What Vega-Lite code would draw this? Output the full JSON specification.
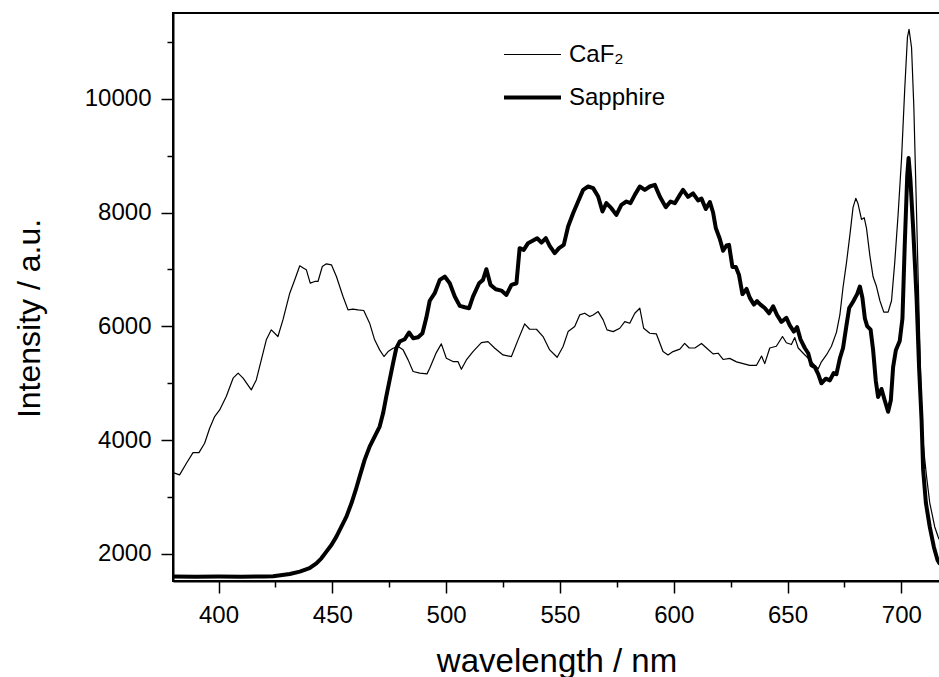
{
  "$schema": "https://vega.github.io/schema/vega-lite/v6.json",
  "autosize": "none",
  "padding": {"left": 173, "top": 13, "right": 0, "bottom": 96},
  "width": 767,
  "height": 568,
  "background": "white",
  "config": {
    "font": "Liberation Sans",
    "view": {"stroke": "black", "strokeWidth": 2},
    "axis": {"grid": false, "domainColor": "black", "domainWidth": 2, "tickColor": "black", "tickWidth": 1.5, "labelColor": "black", "titleColor": "black", "labelFont": "Liberation Sans", "titleFont": "Liberation Sans", "labelFontSize": 24, "titleFontSize": 32, "titleFontWeight": "normal"}
  },
  "data": {
    "values": [
      {"wl": 380, "I": 3430, "s": "CaF₂"},
      {"wl": 382.9, "I": 3390, "s": "CaF₂"},
      {"wl": 385.9, "I": 3594, "s": "CaF₂"},
      {"wl": 388.8, "I": 3782, "s": "CaF₂"},
      {"wl": 391.4, "I": 3782, "s": "CaF₂"},
      {"wl": 393.9, "I": 3946, "s": "CaF₂"},
      {"wl": 396.1, "I": 4210, "s": "CaF₂"},
      {"wl": 398.3, "I": 4415, "s": "CaF₂"},
      {"wl": 400.5, "I": 4532, "s": "CaF₂"},
      {"wl": 403.4, "I": 4766, "s": "CaF₂"},
      {"wl": 406.4, "I": 5089, "s": "CaF₂"},
      {"wl": 408.6, "I": 5177, "s": "CaF₂"},
      {"wl": 410.8, "I": 5089, "s": "CaF₂"},
      {"wl": 414.4, "I": 4884, "s": "CaF₂"},
      {"wl": 416.6, "I": 5059, "s": "CaF₂"},
      {"wl": 418.8, "I": 5411, "s": "CaF₂"},
      {"wl": 421.0, "I": 5763, "s": "CaF₂"},
      {"wl": 423.2, "I": 5939, "s": "CaF₂"},
      {"wl": 426.1, "I": 5822, "s": "CaF₂"},
      {"wl": 428.3, "I": 6114, "s": "CaF₂"},
      {"wl": 431.3, "I": 6583, "s": "CaF₂"},
      {"wl": 433.5, "I": 6818, "s": "CaF₂"},
      {"wl": 435.7, "I": 7064, "s": "CaF₂"},
      {"wl": 437.4, "I": 7023, "s": "CaF₂"},
      {"wl": 438.6, "I": 6994, "s": "CaF₂"},
      {"wl": 440.3, "I": 6759, "s": "CaF₂"},
      {"wl": 442.3, "I": 6789, "s": "CaF₂"},
      {"wl": 443.7, "I": 6789, "s": "CaF₂"},
      {"wl": 445.6, "I": 7052, "s": "CaF₂"},
      {"wl": 447.4, "I": 7099, "s": "CaF₂"},
      {"wl": 449.6, "I": 7081, "s": "CaF₂"},
      {"wl": 451.8, "I": 6876, "s": "CaF₂"},
      {"wl": 454.7, "I": 6525, "s": "CaF₂"},
      {"wl": 456.9, "I": 6290, "s": "CaF₂"},
      {"wl": 459.1, "I": 6302, "s": "CaF₂"},
      {"wl": 461.3, "I": 6290, "s": "CaF₂"},
      {"wl": 463.8, "I": 6279, "s": "CaF₂"},
      {"wl": 466.4, "I": 6056, "s": "CaF₂"},
      {"wl": 468.6, "I": 5763, "s": "CaF₂"},
      {"wl": 470.8, "I": 5587, "s": "CaF₂"},
      {"wl": 472.7, "I": 5470, "s": "CaF₂"},
      {"wl": 474.5, "I": 5558, "s": "CaF₂"},
      {"wl": 476.7, "I": 5616, "s": "CaF₂"},
      {"wl": 478.9, "I": 5646, "s": "CaF₂"},
      {"wl": 481.1, "I": 5587, "s": "CaF₂"},
      {"wl": 483.3, "I": 5411, "s": "CaF₂"},
      {"wl": 485.5, "I": 5206, "s": "CaF₂"},
      {"wl": 488.4, "I": 5177, "s": "CaF₂"},
      {"wl": 491.6, "I": 5165, "s": "CaF₂"},
      {"wl": 492.8, "I": 5264, "s": "CaF₂"},
      {"wl": 495.7, "I": 5539, "s": "CaF₂"},
      {"wl": 497.9, "I": 5692, "s": "CaF₂"},
      {"wl": 500.1, "I": 5440, "s": "CaF₂"},
      {"wl": 503.0, "I": 5381, "s": "CaF₂"},
      {"wl": 505.2, "I": 5381, "s": "CaF₂"},
      {"wl": 506.7, "I": 5246, "s": "CaF₂"},
      {"wl": 508.9, "I": 5410, "s": "CaF₂"},
      {"wl": 511.8, "I": 5557, "s": "CaF₂"},
      {"wl": 515.5, "I": 5715, "s": "CaF₂"},
      {"wl": 518.4, "I": 5733, "s": "CaF₂"},
      {"wl": 521.4, "I": 5616, "s": "CaF₂"},
      {"wl": 525.0, "I": 5498, "s": "CaF₂"},
      {"wl": 528.7, "I": 5469, "s": "CaF₂"},
      {"wl": 531.6, "I": 5762, "s": "CaF₂"},
      {"wl": 534.5, "I": 6043, "s": "CaF₂"},
      {"wl": 536.7, "I": 5949, "s": "CaF₂"},
      {"wl": 539.7, "I": 5949, "s": "CaF₂"},
      {"wl": 542.6, "I": 5820, "s": "CaF₂"},
      {"wl": 545.5, "I": 5586, "s": "CaF₂"},
      {"wl": 548.8, "I": 5457, "s": "CaF₂"},
      {"wl": 551.4, "I": 5645, "s": "CaF₂"},
      {"wl": 553.6, "I": 5908, "s": "CaF₂"},
      {"wl": 556.5, "I": 5996, "s": "CaF₂"},
      {"wl": 558.7, "I": 6201, "s": "CaF₂"},
      {"wl": 560.9, "I": 6231, "s": "CaF₂"},
      {"wl": 563.1, "I": 6172, "s": "CaF₂"},
      {"wl": 564.6, "I": 6201, "s": "CaF₂"},
      {"wl": 566.8, "I": 6260, "s": "CaF₂"},
      {"wl": 569.0, "I": 6114, "s": "CaF₂"},
      {"wl": 570.7, "I": 5938, "s": "CaF₂"},
      {"wl": 573.4, "I": 5908, "s": "CaF₂"},
      {"wl": 576.3, "I": 5967, "s": "CaF₂"},
      {"wl": 578.5, "I": 6084, "s": "CaF₂"},
      {"wl": 580.7, "I": 6055, "s": "CaF₂"},
      {"wl": 582.9, "I": 6231, "s": "CaF₂"},
      {"wl": 585.1, "I": 6319, "s": "CaF₂"},
      {"wl": 586.8, "I": 5967, "s": "CaF₂"},
      {"wl": 589.5, "I": 5879, "s": "CaF₂"},
      {"wl": 592.4, "I": 5867, "s": "CaF₂"},
      {"wl": 595.3, "I": 5557, "s": "CaF₂"},
      {"wl": 597.5, "I": 5498, "s": "CaF₂"},
      {"wl": 599.7, "I": 5557, "s": "CaF₂"},
      {"wl": 602.7, "I": 5600, "s": "CaF₂"},
      {"wl": 604.8, "I": 5700, "s": "CaF₂"},
      {"wl": 606.8, "I": 5620, "s": "CaF₂"},
      {"wl": 609.3, "I": 5620, "s": "CaF₂"},
      {"wl": 612.2, "I": 5699, "s": "CaF₂"},
      {"wl": 614.4, "I": 5620, "s": "CaF₂"},
      {"wl": 617.3, "I": 5516, "s": "CaF₂"},
      {"wl": 619.5, "I": 5528, "s": "CaF₂"},
      {"wl": 621.7, "I": 5418, "s": "CaF₂"},
      {"wl": 624.6, "I": 5437, "s": "CaF₂"},
      {"wl": 627.6, "I": 5376, "s": "CaF₂"},
      {"wl": 630.5, "I": 5345, "s": "CaF₂"},
      {"wl": 633.4, "I": 5315, "s": "CaF₂"},
      {"wl": 636.4, "I": 5315, "s": "CaF₂"},
      {"wl": 638.6, "I": 5479, "s": "CaF₂"},
      {"wl": 640.0, "I": 5345, "s": "CaF₂"},
      {"wl": 642.2, "I": 5620, "s": "CaF₂"},
      {"wl": 645.1, "I": 5650, "s": "CaF₂"},
      {"wl": 647.8, "I": 5821, "s": "CaF₂"},
      {"wl": 649.5, "I": 5711, "s": "CaF₂"},
      {"wl": 651.7, "I": 5681, "s": "CaF₂"},
      {"wl": 653.2, "I": 5803, "s": "CaF₂"},
      {"wl": 654.7, "I": 5620, "s": "CaF₂"},
      {"wl": 656.9, "I": 5528, "s": "CaF₂"},
      {"wl": 659.1, "I": 5437, "s": "CaF₂"},
      {"wl": 661.3, "I": 5345, "s": "CaF₂"},
      {"wl": 663.5, "I": 5253, "s": "CaF₂"},
      {"wl": 664.9, "I": 5376, "s": "CaF₂"},
      {"wl": 667.1, "I": 5498, "s": "CaF₂"},
      {"wl": 669.3, "I": 5650, "s": "CaF₂"},
      {"wl": 671.5, "I": 5895, "s": "CaF₂"},
      {"wl": 673.0, "I": 6200, "s": "CaF₂"},
      {"wl": 674.4, "I": 6688, "s": "CaF₂"},
      {"wl": 675.9, "I": 7116, "s": "CaF₂"},
      {"wl": 677.4, "I": 7604, "s": "CaF₂"},
      {"wl": 678.8, "I": 8092, "s": "CaF₂"},
      {"wl": 680.0, "I": 8250, "s": "CaF₂"},
      {"wl": 681.0, "I": 8153, "s": "CaF₂"},
      {"wl": 682.5, "I": 7879, "s": "CaF₂"},
      {"wl": 683.7, "I": 7909, "s": "CaF₂"},
      {"wl": 684.7, "I": 7726, "s": "CaF₂"},
      {"wl": 686.2, "I": 7238, "s": "CaF₂"},
      {"wl": 687.6, "I": 6871, "s": "CaF₂"},
      {"wl": 689.1, "I": 6700, "s": "CaF₂"},
      {"wl": 690.6, "I": 6450, "s": "CaF₂"},
      {"wl": 692.3, "I": 6250, "s": "CaF₂"},
      {"wl": 694.2, "I": 6250, "s": "CaF₂"},
      {"wl": 695.7, "I": 6450, "s": "CaF₂"},
      {"wl": 697.1, "I": 7116, "s": "CaF₂"},
      {"wl": 698.6, "I": 7970, "s": "CaF₂"},
      {"wl": 700.1, "I": 8947, "s": "CaF₂"},
      {"wl": 701.5, "I": 10168, "s": "CaF₂"},
      {"wl": 702.7, "I": 11084, "s": "CaF₂"},
      {"wl": 703.4, "I": 11218, "s": "CaF₂"},
      {"wl": 704.5, "I": 10901, "s": "CaF₂"},
      {"wl": 705.5, "I": 9863, "s": "CaF₂"},
      {"wl": 706.5, "I": 8300, "s": "CaF₂"},
      {"wl": 707.5, "I": 6700, "s": "CaF₂"},
      {"wl": 708.5, "I": 5100, "s": "CaF₂"},
      {"wl": 709.3, "I": 4100, "s": "CaF₂"},
      {"wl": 710.2, "I": 3700, "s": "CaF₂"},
      {"wl": 711.1, "I": 3359, "s": "CaF₂"},
      {"wl": 712.5, "I": 2897, "s": "CaF₂"},
      {"wl": 714.7, "I": 2475, "s": "CaF₂"},
      {"wl": 716.2, "I": 2299, "s": "CaF₂"},
      {"wl": 717, "I": 2230, "s": "CaF₂"},

      {"wl": 380, "I": 1605, "s": "Sapphire"},
      {"wl": 390, "I": 1600, "s": "Sapphire"},
      {"wl": 400, "I": 1602, "s": "Sapphire"},
      {"wl": 410, "I": 1600, "s": "Sapphire"},
      {"wl": 420, "I": 1605, "s": "Sapphire"},
      {"wl": 424, "I": 1610, "s": "Sapphire"},
      {"wl": 431.3, "I": 1648, "s": "Sapphire"},
      {"wl": 435.7, "I": 1690, "s": "Sapphire"},
      {"wl": 440, "I": 1750, "s": "Sapphire"},
      {"wl": 443, "I": 1836, "s": "Sapphire"},
      {"wl": 445.2, "I": 1924, "s": "Sapphire"},
      {"wl": 447.4, "I": 2041, "s": "Sapphire"},
      {"wl": 449.6, "I": 2158, "s": "Sapphire"},
      {"wl": 451.8, "I": 2305, "s": "Sapphire"},
      {"wl": 454, "I": 2481, "s": "Sapphire"},
      {"wl": 456.2, "I": 2656, "s": "Sapphire"},
      {"wl": 458.4, "I": 2891, "s": "Sapphire"},
      {"wl": 460.3, "I": 3125, "s": "Sapphire"},
      {"wl": 462, "I": 3360, "s": "Sapphire"},
      {"wl": 464.2, "I": 3653, "s": "Sapphire"},
      {"wl": 466.4, "I": 3887, "s": "Sapphire"},
      {"wl": 468.6, "I": 4063, "s": "Sapphire"},
      {"wl": 470.8, "I": 4239, "s": "Sapphire"},
      {"wl": 472.3, "I": 4473, "s": "Sapphire"},
      {"wl": 473.7, "I": 4766, "s": "Sapphire"},
      {"wl": 475.2, "I": 5059, "s": "Sapphire"},
      {"wl": 476.7, "I": 5353, "s": "Sapphire"},
      {"wl": 478.1, "I": 5616, "s": "Sapphire"},
      {"wl": 479.6, "I": 5733, "s": "Sapphire"},
      {"wl": 481.8, "I": 5774, "s": "Sapphire"},
      {"wl": 483.7, "I": 5892, "s": "Sapphire"},
      {"wl": 485.5, "I": 5792, "s": "Sapphire"},
      {"wl": 487.7, "I": 5810, "s": "Sapphire"},
      {"wl": 489.6, "I": 5880, "s": "Sapphire"},
      {"wl": 491.3, "I": 6150, "s": "Sapphire"},
      {"wl": 492.8, "I": 6450, "s": "Sapphire"},
      {"wl": 495.0, "I": 6583, "s": "Sapphire"},
      {"wl": 497.2, "I": 6817, "s": "Sapphire"},
      {"wl": 499.4, "I": 6875, "s": "Sapphire"},
      {"wl": 501.6, "I": 6758, "s": "Sapphire"},
      {"wl": 503.8, "I": 6524, "s": "Sapphire"},
      {"wl": 506.0, "I": 6360, "s": "Sapphire"},
      {"wl": 508.2, "I": 6336, "s": "Sapphire"},
      {"wl": 510.1, "I": 6319, "s": "Sapphire"},
      {"wl": 511.8, "I": 6524, "s": "Sapphire"},
      {"wl": 514.5, "I": 6758, "s": "Sapphire"},
      {"wl": 516.2, "I": 6817, "s": "Sapphire"},
      {"wl": 517.7, "I": 7004, "s": "Sapphire"},
      {"wl": 519.5, "I": 6729, "s": "Sapphire"},
      {"wl": 521.8, "I": 6653, "s": "Sapphire"},
      {"wl": 524.3, "I": 6629, "s": "Sapphire"},
      {"wl": 526.5, "I": 6553, "s": "Sapphire"},
      {"wl": 528.7, "I": 6729, "s": "Sapphire"},
      {"wl": 530.9, "I": 6758, "s": "Sapphire"},
      {"wl": 532.3, "I": 7374, "s": "Sapphire"},
      {"wl": 534.1, "I": 7344, "s": "Sapphire"},
      {"wl": 536.0, "I": 7462, "s": "Sapphire"},
      {"wl": 538.2, "I": 7508, "s": "Sapphire"},
      {"wl": 540.0, "I": 7549, "s": "Sapphire"},
      {"wl": 541.9, "I": 7473, "s": "Sapphire"},
      {"wl": 543.8, "I": 7549, "s": "Sapphire"},
      {"wl": 545.5, "I": 7415, "s": "Sapphire"},
      {"wl": 547.7, "I": 7286, "s": "Sapphire"},
      {"wl": 549.6, "I": 7374, "s": "Sapphire"},
      {"wl": 551.7, "I": 7432, "s": "Sapphire"},
      {"wl": 553.6, "I": 7755, "s": "Sapphire"},
      {"wl": 555.8, "I": 7989, "s": "Sapphire"},
      {"wl": 558.0, "I": 8194, "s": "Sapphire"},
      {"wl": 560.2, "I": 8399, "s": "Sapphire"},
      {"wl": 562.4, "I": 8458, "s": "Sapphire"},
      {"wl": 564.6, "I": 8429, "s": "Sapphire"},
      {"wl": 566.8, "I": 8282, "s": "Sapphire"},
      {"wl": 568.7, "I": 8018, "s": "Sapphire"},
      {"wl": 570.4, "I": 8165, "s": "Sapphire"},
      {"wl": 572.6, "I": 8077, "s": "Sapphire"},
      {"wl": 574.8, "I": 7960, "s": "Sapphire"},
      {"wl": 577.0, "I": 8136, "s": "Sapphire"},
      {"wl": 579.2, "I": 8194, "s": "Sapphire"},
      {"wl": 581.0, "I": 8165, "s": "Sapphire"},
      {"wl": 582.9, "I": 8311, "s": "Sapphire"},
      {"wl": 585.1, "I": 8458, "s": "Sapphire"},
      {"wl": 587.3, "I": 8399, "s": "Sapphire"},
      {"wl": 589.5, "I": 8458, "s": "Sapphire"},
      {"wl": 591.7, "I": 8487, "s": "Sapphire"},
      {"wl": 593.9, "I": 8282, "s": "Sapphire"},
      {"wl": 596.5, "I": 8095, "s": "Sapphire"},
      {"wl": 598.6, "I": 8194, "s": "Sapphire"},
      {"wl": 600.5, "I": 8165, "s": "Sapphire"},
      {"wl": 602.7, "I": 8311, "s": "Sapphire"},
      {"wl": 604.1, "I": 8398, "s": "Sapphire"},
      {"wl": 606.3, "I": 8275, "s": "Sapphire"},
      {"wl": 608.5, "I": 8337, "s": "Sapphire"},
      {"wl": 610.7, "I": 8214, "s": "Sapphire"},
      {"wl": 612.2, "I": 8245, "s": "Sapphire"},
      {"wl": 614.1, "I": 8062, "s": "Sapphire"},
      {"wl": 615.9, "I": 8184, "s": "Sapphire"},
      {"wl": 617.3, "I": 8001, "s": "Sapphire"},
      {"wl": 618.5, "I": 7726, "s": "Sapphire"},
      {"wl": 620.2, "I": 7543, "s": "Sapphire"},
      {"wl": 621.7, "I": 7329, "s": "Sapphire"},
      {"wl": 623.2, "I": 7421, "s": "Sapphire"},
      {"wl": 624.3, "I": 7433, "s": "Sapphire"},
      {"wl": 625.8, "I": 7042, "s": "Sapphire"},
      {"wl": 627.3, "I": 7042, "s": "Sapphire"},
      {"wl": 628.7, "I": 6902, "s": "Sapphire"},
      {"wl": 630.2, "I": 6566, "s": "Sapphire"},
      {"wl": 632.0, "I": 6658, "s": "Sapphire"},
      {"wl": 633.4, "I": 6505, "s": "Sapphire"},
      {"wl": 635.2, "I": 6383, "s": "Sapphire"},
      {"wl": 636.6, "I": 6444, "s": "Sapphire"},
      {"wl": 638.1, "I": 6383, "s": "Sapphire"},
      {"wl": 640.0, "I": 6322, "s": "Sapphire"},
      {"wl": 641.9, "I": 6230, "s": "Sapphire"},
      {"wl": 643.7, "I": 6352, "s": "Sapphire"},
      {"wl": 645.4, "I": 6200, "s": "Sapphire"},
      {"wl": 647.3, "I": 6078, "s": "Sapphire"},
      {"wl": 649.5, "I": 6151, "s": "Sapphire"},
      {"wl": 651.0, "I": 6017, "s": "Sapphire"},
      {"wl": 652.8, "I": 5907, "s": "Sapphire"},
      {"wl": 654.2, "I": 5986, "s": "Sapphire"},
      {"wl": 655.7, "I": 5772, "s": "Sapphire"},
      {"wl": 657.6, "I": 5620, "s": "Sapphire"},
      {"wl": 659.1, "I": 5528, "s": "Sapphire"},
      {"wl": 660.5, "I": 5315, "s": "Sapphire"},
      {"wl": 662.0, "I": 5284, "s": "Sapphire"},
      {"wl": 663.5, "I": 5162, "s": "Sapphire"},
      {"wl": 664.9, "I": 5000, "s": "Sapphire"},
      {"wl": 666.8, "I": 5080, "s": "Sapphire"},
      {"wl": 668.6, "I": 5050, "s": "Sapphire"},
      {"wl": 670.3, "I": 5180, "s": "Sapphire"},
      {"wl": 671.5, "I": 5160, "s": "Sapphire"},
      {"wl": 673.0, "I": 5437, "s": "Sapphire"},
      {"wl": 674.4, "I": 5620, "s": "Sapphire"},
      {"wl": 675.9, "I": 6017, "s": "Sapphire"},
      {"wl": 677.1, "I": 6322, "s": "Sapphire"},
      {"wl": 678.8, "I": 6432, "s": "Sapphire"},
      {"wl": 680.6, "I": 6566, "s": "Sapphire"},
      {"wl": 681.8, "I": 6700, "s": "Sapphire"},
      {"wl": 682.9, "I": 6505, "s": "Sapphire"},
      {"wl": 684.0, "I": 6139, "s": "Sapphire"},
      {"wl": 685.0, "I": 6004, "s": "Sapphire"},
      {"wl": 686.5, "I": 5943, "s": "Sapphire"},
      {"wl": 687.6, "I": 5589, "s": "Sapphire"},
      {"wl": 688.8, "I": 5040, "s": "Sapphire"},
      {"wl": 689.8, "I": 4760, "s": "Sapphire"},
      {"wl": 691.3, "I": 4900, "s": "Sapphire"},
      {"wl": 692.7, "I": 4700, "s": "Sapphire"},
      {"wl": 694.2, "I": 4500, "s": "Sapphire"},
      {"wl": 695.4, "I": 4700, "s": "Sapphire"},
      {"wl": 696.4, "I": 5284, "s": "Sapphire"},
      {"wl": 697.6, "I": 5580, "s": "Sapphire"},
      {"wl": 699.3, "I": 5742, "s": "Sapphire"},
      {"wl": 700.5, "I": 6139, "s": "Sapphire"},
      {"wl": 701.5, "I": 7421, "s": "Sapphire"},
      {"wl": 702.6, "I": 8642, "s": "Sapphire"},
      {"wl": 703.2, "I": 8960, "s": "Sapphire"},
      {"wl": 704.0, "I": 8581, "s": "Sapphire"},
      {"wl": 705.2, "I": 7726, "s": "Sapphire"},
      {"wl": 706.7, "I": 6505, "s": "Sapphire"},
      {"wl": 707.8, "I": 5284, "s": "Sapphire"},
      {"wl": 708.9, "I": 4356, "s": "Sapphire"},
      {"wl": 709.6, "I": 3477, "s": "Sapphire"},
      {"wl": 710.8, "I": 2897, "s": "Sapphire"},
      {"wl": 712.5, "I": 2475, "s": "Sapphire"},
      {"wl": 714.3, "I": 2123, "s": "Sapphire"},
      {"wl": 715.9, "I": 1894, "s": "Sapphire"},
      {"wl": 717, "I": 1820, "s": "Sapphire"}
    ]
  },
  "mark": {"type": "line", "color": "black", "clip": true, "strokeJoin": "round"},
  "encoding": {
    "x": {
      "field": "wl", "type": "quantitative",
      "scale": {"domain": [380, 717], "nice": false, "zero": false},
      "axis": {
        "title": "wavelength / nm",
        "values": [400, 425, 450, 475, 500, 525, 550, 575, 600, 625, 650, 675, 700],
        "labelExpr": "datum.value % 50 === 0 ? datum.label : ''",
        "tickSize": {"condition": {"test": "datum.value % 50 === 0", "value": 12}, "value": 6},
        "labelPadding": 10,
        "labelFlush": false,
        "labelOverlap": false,
        "titleY": 90,
        "titleFontSize": 33,
        "titleBaseline": "alphabetic"
      }
    },
    "y": {
      "field": "I", "type": "quantitative",
      "scale": {"domain": [1525, 11507], "nice": false, "zero": false},
      "axis": {
        "title": "Intensity / a.u.",
        "values": [2000, 3000, 4000, 5000, 6000, 7000, 8000, 9000, 10000, 11000],
        "format": "d",
        "labelExpr": "datum.value % 2000 === 0 ? datum.label : ''",
        "tickSize": {"condition": {"test": "datum.value % 2000 === 0", "value": 12}, "value": 6},
        "labelPadding": 10,
        "labelFlush": false,
        "labelOverlap": false,
        "titleX": -134,
        "titleY": 305,
        "titleBaseline": "alphabetic",
        "titleAngle": -90,
        "titleAlign": "center"
      }
    },
    "strokeWidth": {
      "field": "s", "type": "ordinal",
      "scale": {"domain": ["CaF₂", "Sapphire"], "range": [1.2, 4]},
      "legend": {
        "orient": "none",
        "legendX": 329,
        "legendY": 12,
        "title": null,
        "symbolType": "stroke",
        "symbolSize": 3249,
        "symbolStrokeColor": "black",
        "labelFontSize": 24,
        "labelFont": "Liberation Sans",
        "labelColor": "black",
        "labelOffset": 6,
        "rowPadding": -3
      }
    }
  }
}
